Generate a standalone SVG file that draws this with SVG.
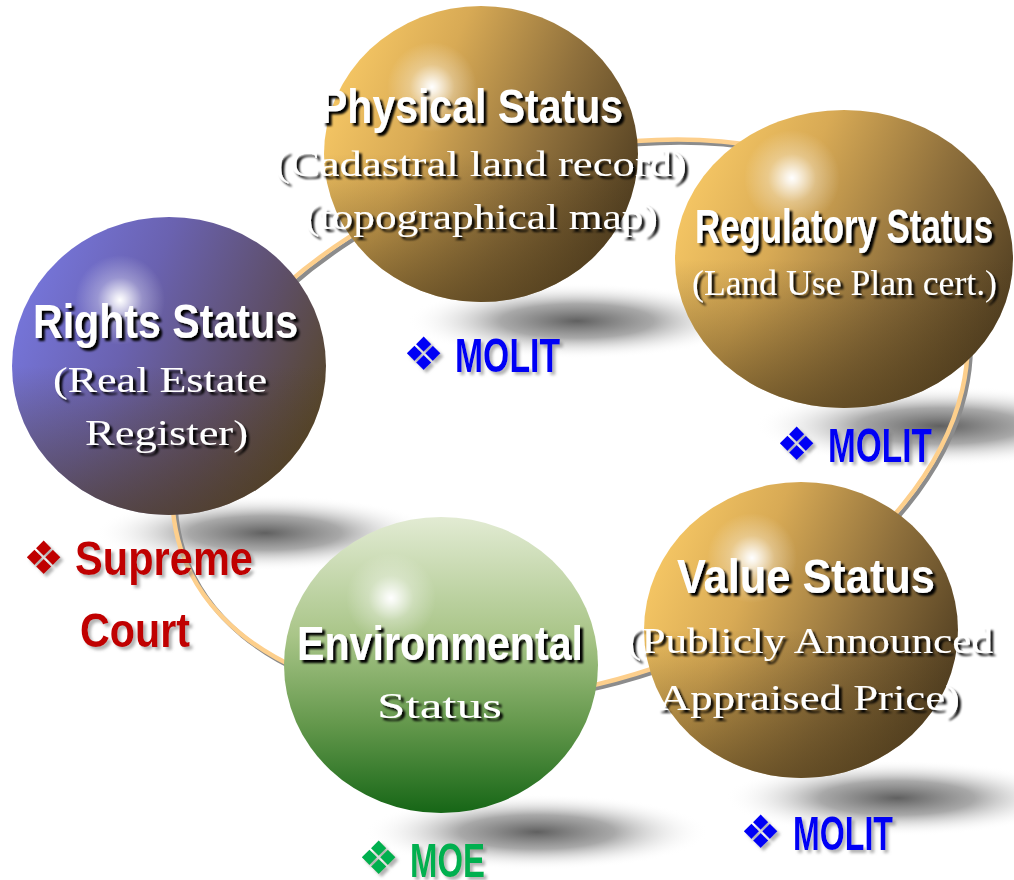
<svg xmlns="http://www.w3.org/2000/svg" width="1014" height="880" viewBox="0 0 1014 880">
<defs>
  <linearGradient id="gGold" x1="0" y1="0.3" x2="1" y2="0.7">
    <stop offset="0" stop-color="#f7c865"/>
    <stop offset="0.3" stop-color="#d8aa55"/>
    <stop offset="0.65" stop-color="#8f703c"/>
    <stop offset="1" stop-color="#4e3c20"/>
  </linearGradient>
  <linearGradient id="gRights" x1="0" y1="0.3" x2="1" y2="0.7">
    <stop offset="0" stop-color="#7676dc"/>
    <stop offset="0.35" stop-color="#6a62b0"/>
    <stop offset="0.7" stop-color="#5e4f6a"/>
    <stop offset="1" stop-color="#574626"/>
  </linearGradient>
  <linearGradient id="gDark" x1="0" y1="0" x2="0" y2="1">
    <stop offset="0.5" stop-color="#4a3818" stop-opacity="0"/>
    <stop offset="1" stop-color="#4a3818" stop-opacity="0.6"/>
  </linearGradient>
  <linearGradient id="gEnv" x1="0" y1="0" x2="0" y2="1">
    <stop offset="0" stop-color="#e2ebd3"/>
    <stop offset="0.4" stop-color="#a9c588"/>
    <stop offset="0.7" stop-color="#64984c"/>
    <stop offset="1" stop-color="#166616"/>
  </linearGradient>
  <radialGradient id="gHi">
    <stop offset="0" stop-color="#ffffff" stop-opacity="1"/>
    <stop offset="0.12" stop-color="#ffffff" stop-opacity="0.85"/>
    <stop offset="0.5" stop-color="#ffffff" stop-opacity="0.3"/>
    <stop offset="1" stop-color="#ffffff" stop-opacity="0"/>
  </radialGradient>
  <radialGradient id="gShadow">
    <stop offset="0" stop-color="#606060" stop-opacity="1"/>
    <stop offset="0.45" stop-color="#7a7a7a" stop-opacity="0.65"/>
    <stop offset="1" stop-color="#ffffff" stop-opacity="0"/>
  </radialGradient>
  <filter id="fTitle" x="-10%" y="-30%" width="125%" height="170%">
    <feDropShadow dx="3" dy="3" stdDeviation="0.8" flood-color="#000000" flood-opacity="1"/>
  </filter>
  <filter id="fSub" x="-10%" y="-30%" width="125%" height="170%">
    <feDropShadow dx="3" dy="3" stdDeviation="1" flood-color="#000000" flood-opacity="0.95"/>
  </filter>
  <filter id="fLab" x="-10%" y="-30%" width="125%" height="170%">
    <feDropShadow dx="3" dy="3" stdDeviation="1.5" flood-color="#808080" flood-opacity="0.6"/>
  </filter>
</defs>
<style>
  .title { font-family: "Liberation Sans Narrow", "Liberation Sans", Arial, sans-serif; font-weight: bold; font-size: 48px; fill: #ffffff; text-anchor: middle; filter: url(#fTitle); }
  .sub { font-family: "Liberation Serif", "Times New Roman", serif; font-size: 36px; fill: #ffffff; text-anchor: middle; filter: url(#fSub); }
  .lab { font-family: "Liberation Sans Narrow", "Liberation Sans", Arial, sans-serif; font-weight: bold; font-size: 48px; filter: url(#fLab); }
  .dia { font-family: "DejaVu Sans", sans-serif; font-size: 46px; filter: url(#fLab); }
  .blue { fill: #0000f5; }
  .red { fill: #c00000; }
  .green { fill: #00b050; }
  .shadow { fill: url(#gShadow); }
  .hi { fill: url(#gHi); }
  .dark { fill: url(#gDark); }
</style>
<rect width="1014" height="880" fill="#ffffff"/>

<g id="shadows">
  <ellipse class="shadow" cx="577" cy="321" rx="170" ry="38"/>
  <ellipse class="shadow" cx="940" cy="426" rx="185" ry="40"/>
  <ellipse class="shadow" cx="265" cy="533" rx="170" ry="38"/>
  <ellipse class="shadow" cx="537" cy="832" rx="172" ry="38"/>
  <ellipse class="shadow" cx="897" cy="798" rx="172" ry="38"/>
</g>

<g id="connectors">
  <ellipse cx="573" cy="423" rx="410" ry="262" transform="rotate(-18.5 573 423)" fill="none" stroke="#8c8c8c" stroke-width="4.5"/>
  <ellipse cx="570" cy="420" rx="410" ry="262" transform="rotate(-18.5 570 420)" fill="none" stroke="#fdcf8c" stroke-width="4.5"/>
</g>

<g id="rights">
  <ellipse cx="169" cy="366" rx="157" ry="149" fill="url(#gRights)"/>
  <ellipse class="dark" cx="169" cy="366" rx="157" ry="149"/>
  <circle class="hi" cx="120" cy="300" r="45"/>
  <text class="title" x="165.5" y="338" textLength="265" lengthAdjust="spacingAndGlyphs">Rights Status</text>
  <text class="sub" x="160" y="392" textLength="214" lengthAdjust="spacingAndGlyphs">(Real Estate</text>
  <text class="sub" x="166.5" y="445" textLength="163" lengthAdjust="spacingAndGlyphs">Register)</text>
</g>

<g id="physical">
  <ellipse cx="481" cy="154" rx="157" ry="148" fill="url(#gGold)"/>
  <ellipse class="dark" cx="481" cy="154" rx="157" ry="148"/>
  <circle class="hi" cx="432" cy="87" r="45"/>
  <text class="title" x="471.5" y="123" font-size="46" textLength="303" lengthAdjust="spacingAndGlyphs">Physical Status</text>
  <text class="sub" x="481" y="176" textLength="412" lengthAdjust="spacingAndGlyphs">(Cadastral land record)</text>
  <text class="sub" x="481.5" y="229" textLength="353" lengthAdjust="spacingAndGlyphs">(topographical map)</text>
</g>

<g id="regulatory">
  <ellipse cx="844" cy="259" rx="169" ry="149" fill="url(#gGold)"/>
  <ellipse class="dark" cx="844" cy="259" rx="169" ry="149"/>
  <circle class="hi" cx="792" cy="178" r="48"/>
  <text class="title" x="844" y="243" textLength="298" lengthAdjust="spacingAndGlyphs">Regulatory Status</text>
  <text class="sub" x="844.5" y="295" textLength="305" lengthAdjust="spacingAndGlyphs">(Land Use Plan cert.)</text>
</g>

<g id="value">
  <ellipse cx="801" cy="630" rx="157" ry="148" fill="url(#gGold)"/>
  <ellipse class="dark" cx="801" cy="630" rx="157" ry="148"/>
  <circle class="hi" cx="752" cy="558" r="45"/>
  <text class="title" x="806" y="593" textLength="258" lengthAdjust="spacingAndGlyphs">Value Status</text>
  <text class="sub" x="810" y="653" textLength="366" lengthAdjust="spacingAndGlyphs">(Publicly Announced</text>
  <text class="sub" x="809" y="710" textLength="302" lengthAdjust="spacingAndGlyphs">Appraised Price)</text>
</g>

<g id="environmental">
  <ellipse cx="441" cy="665" rx="157" ry="148" fill="url(#gEnv)"/>
  <circle class="hi" cx="391" cy="598" r="45"/>
  <text class="title" x="440" y="660" textLength="286" lengthAdjust="spacingAndGlyphs">Environmental</text>
  <text class="sub" x="439.5" y="718" font-size="42" textLength="125" lengthAdjust="spacingAndGlyphs">Status</text>
</g>

<g id="label-physical">
  <text class="dia blue" x="403" y="370">❖</text>
  <text class="lab blue" x="455" y="372" textLength="105" lengthAdjust="spacingAndGlyphs">MOLIT</text>
</g>
<g id="label-regulatory">
  <text class="dia blue" x="776" y="460">❖</text>
  <text class="lab blue" x="828" y="462" textLength="104" lengthAdjust="spacingAndGlyphs">MOLIT</text>
</g>
<g id="label-value">
  <text class="dia blue" x="740" y="848">❖</text>
  <text class="lab blue" x="793" y="850" textLength="100" lengthAdjust="spacingAndGlyphs">MOLIT</text>
</g>
<g id="label-environmental">
  <text class="dia green" x="358" y="874">❖</text>
  <text class="lab green" x="410" y="877" textLength="75" lengthAdjust="spacingAndGlyphs">MOE</text>
</g>
<g id="label-rights">
  <text class="dia red" x="23" y="574">❖</text>
  <text class="lab red" x="75" y="575" textLength="178" lengthAdjust="spacingAndGlyphs">Supreme</text>
  <text class="lab red" x="80" y="647" textLength="110" lengthAdjust="spacingAndGlyphs">Court</text>
</g>
</svg>
